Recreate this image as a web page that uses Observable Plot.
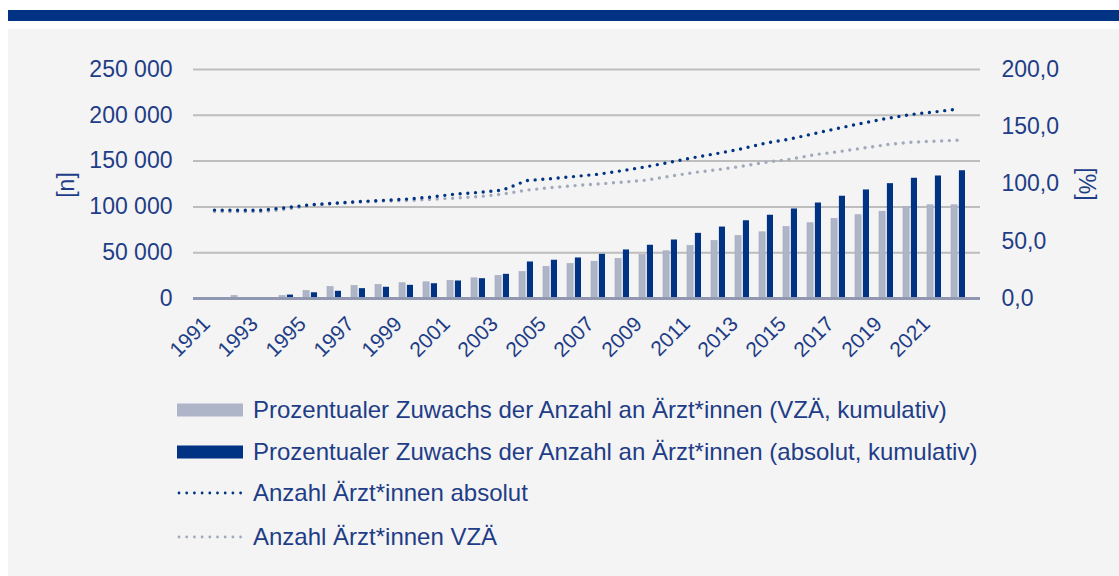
<!DOCTYPE html>
<html><head><meta charset="utf-8">
<script src="https://cdn.jsdelivr.net/npm/d3@7"></script>
<script src="https://cdn.jsdelivr.net/npm/@observablehq/plot@0.6"></script>
<style>
body{margin:0;background:#fff;width:1119px;height:576px;overflow:hidden;position:relative;font-family:"Liberation Sans",Arial,sans-serif;}
#topbar{position:absolute;left:8px;top:10px;width:1111px;height:11px;background:#003383;}
#panel{position:absolute;left:8px;top:29px;width:1111px;height:547px;background:#f4f4f4;}
#chart{position:absolute;left:0;top:0;}
.atitle{position:absolute;font-size:23px;color:#1f3d87;white-space:nowrap;line-height:26px;}
.leg{position:absolute;left:177px;height:26px;display:flex;align-items:center;font-size:24px;color:#1f3d87;white-space:nowrap;}
.leg svg{margin-right:10px;}
</style></head>
<body>
<div id="topbar"></div>
<div id="panel"></div>
<div id="chart"></div>
<div class="atitle" style="left:53px;top:172px;transform:rotate(-90deg);">[n]</div>
<div class="atitle" style="left:1070px;top:171px;transform:rotate(90deg);">[%]</div>
<div id="legend"></div>
<script>
const years = d3.range(1991, 2023);
const pctVZA = [0, 2.2, 0.4, 2.2, 6.5, 10, 10.9, 11.8, 13.3, 14.1, 15.3, 17.6, 19.7, 23.1, 27.5, 30.1, 32.1, 34.5, 38, 41.2, 45.9, 50.2, 54.6, 57.8, 62.4, 65.7, 69.4, 72.7, 75.8, 79.9, 81.4, 81.4];
const pctAbs = [0, 0.4, 0.4, 3, 5, 6.3, 8.6, 9.8, 11.5, 12.9, 15.3, 17.3, 21.1, 31.9, 33.4, 35.4, 38.6, 42.4, 46.5, 51.1, 56.9, 62.4, 67.9, 72.7, 78.2, 83.4, 89.3, 94.8, 100.3, 105, 107, 111.6];
const nAbs = [96500, 96400, 96400, 99200, 102300, 104100, 105800, 107100, 108500, 110700, 113900, 115800, 118300, 128700, 130800, 133200, 135700, 139600, 143900, 148800, 154000, 158600, 163600, 169900, 174200, 180100, 185900, 191400, 196500, 200800, 203700, 206900];
const nVZA = [94900, 94800, 94800, 97600, 101400, 103600, 105200, 106300, 106900, 108200, 109600, 111200, 113900, 118300, 121000, 123200, 125100, 127000, 129200, 133600, 137600, 140700, 144500, 148800, 152100, 157000, 160300, 164100, 167900, 170600, 171700, 172800];
const leftTicks = [0, 50000, 100000, 150000, 200000, 250000];
const rightTicks = [0, 50, 100, 150, 200];
const labels = {
  vza: "Prozentualer Zuwachs der Anzahl an Ärzt*innen (VZÄ, kumulativ)",
  abs: "Prozentualer Zuwachs der Anzahl an Ärzt*innen (absolut, kumulativ)",
  nAbs: "Anzahl Ärzt*innen absolut",
  nVZA: "Anzahl Ärzt*innen VZÄ"
};

const k = 250000 / 200; // % -> left scale
const data = years.map((y, i) => ({year: y, pv: pctVZA[i] * k, pa: pctAbs[i] * k, na: nAbs[i], nv: nVZA[i]}));

const DARK = "#003383", LIGHT = "#afb5c8", DOTL = "#a3a9bc", TXT = "#1f3d87";
const W = 1119, H = 380, ML = 193, MR = 139, MT = 69, MB = 82;
const paddingInner = 0.4, paddingOuter = 0.18;
const step = (W - ML - MR) / (years.length - paddingInner + 2 * paddingOuter);
const bw = step * (1 - paddingInner);

const chart = Plot.plot({
  width: W, height: H,
  marginLeft: ML, marginRight: MR, marginTop: MT, marginBottom: MB,
  style: {background: "transparent", fontFamily: "'Liberation Sans', Arial, sans-serif"},
  x: {type: "band", domain: years, paddingInner, paddingOuter, axis: null},
  y: {domain: [0, 250000], axis: null},
  marks: [
    Plot.ruleY(leftTicks.filter(d => d > 0), {stroke: "#bdbdbd", strokeWidth: 2}),
    Plot.barY(data, {x: "year", y: "pv", fill: LIGHT, stroke: "#a2a8ba", strokeWidth: 0.6, insetRight: bw / 2 + 0.5}),
    Plot.barY(data, {x: "year", y: "pa", fill: DARK, insetLeft: bw / 2 + 0.5}),
    Plot.ruleY([0], {stroke: "#8f98b0", strokeWidth: 3}),
    Plot.lineY(data, {x: "year", y: "nv", stroke: DOTL, strokeWidth: 3.4, strokeDasharray: "0 7.7", strokeLinecap: "round"}),
    Plot.lineY(data, {x: "year", y: "na", stroke: DARK, strokeWidth: 3.4, strokeDasharray: "0 7.7", strokeLinecap: "round"}),
    Plot.axisY(leftTicks, {anchor: "left", tickSize: 0, tickPadding: 21, fontSize: 23, color: TXT, label: null,
      tickFormat: d => d3.format(",")(d).replace(/,/g, " ")}),
    Plot.axisY(rightTicks.map(p => p * k), {anchor: "right", tickSize: 0, tickPadding: 21, fontSize: 23, color: TXT, label: null,
      tickFormat: d => (d / k).toFixed(1).replace(".", ",")}),
    Plot.axisX(years.filter((y, i) => i % 2 === 0), {anchor: "bottom", tickSize: 0, tickPadding: 22, tickRotate: -45, fontSize: 21, color: TXT, label: null,
      dx: -8, tickFormat: d => String(d)})
  ]
});
document.getElementById("chart").appendChild(chart);

// legend
const leg = document.getElementById("legend");
const items = [
  {text: labels.vza, type: "bar", color: LIGHT, y: 397},
  {text: labels.abs, type: "bar", color: DARK, y: 439},
  {text: labels.nAbs, type: "dot", color: DARK, y: 480},
  {text: labels.nVZA, type: "dot", color: DOTL, y: 524}
];
for (const it of items) {
  const row = document.createElement("div");
  row.className = "leg";
  row.style.top = it.y + "px";
  const sw = it.type === "bar"
    ? `<svg width="66" height="14"><rect x="0" y="0.5" width="66" height="13" fill="${it.color}"/></svg>`
    : `<svg width="66" height="14"><line x1="2" x2="64" y1="7" y2="7" stroke="${it.color}" stroke-width="2.8" stroke-dasharray="0 7.7" stroke-linecap="round"/></svg>`;
  row.innerHTML = sw + `<span>${it.text}</span>`;
  leg.appendChild(row);
}
</script>
</body></html>
